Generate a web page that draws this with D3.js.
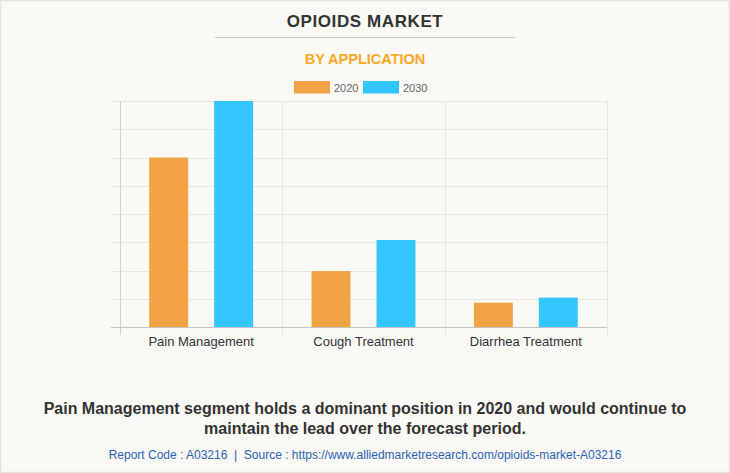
<!DOCTYPE html>
<html><head><meta charset="utf-8">
<script src="https://cdn.jsdelivr.net/npm/d3@7"></script>
<style>
html,body{margin:0;padding:0;background:#fff;}
svg{display:block;}
</style></head>
<body>
<script>
const categories = ["Pain Management", "Cough Treatment", "Diarrhea Treatment"];
const seriesKeys = ["2020", "2030"];
const values2020 = [6.0, 1.98, 0.86];
const values2030 = [8.0, 3.08, 1.04];
const gridTicks = [0,1,2,3,4,5,6,7,8];
const colors = ["#f2a344", "#33c6fd"];

(function(){
const W = 730, H = 473;
const svg = d3.select("body").append("svg").attr("width", W).attr("height", H);
svg.append("rect").attr("x",0.5).attr("y",0.5).attr("width",W-1).attr("height",H-1)
  .attr("fill","#faf9f5").attr("stroke","#e3e3e3").attr("stroke-width",1.5);

const ff = "'Liberation Sans', Arial, sans-serif";
svg.append("text").attr("x",365).attr("y",27).attr("text-anchor","middle")
  .attr("font-family",ff).attr("font-weight","bold").attr("font-size",17).attr("letter-spacing",0.6)
  .attr("fill","#333").text("OPIOIDS MARKET");
svg.append("line").attr("x1",215).attr("x2",515).attr("y1",37.5).attr("y2",37.5).attr("stroke","#c8c8c8");
svg.append("text").attr("x",365).attr("y",64).attr("text-anchor","middle")
  .attr("font-family",ff).attr("font-weight","bold").attr("font-size",14.5)
  .attr("fill","#f9a825").text("BY APPLICATION");

// legend
const legX = [294, 363];
seriesKeys.forEach((k,i)=>{
  svg.append("rect").attr("x",legX[i]).attr("y",81).attr("width",36).attr("height",12.5).attr("fill",colors[i]);
  svg.append("text").attr("x",legX[i]+40).attr("y",91.5).attr("font-family",ff).attr("font-size",11)
    .attr("fill","#666").text(k);
});

const pLeft=120, pRight=607, pTop=101, pBottom=327;
const x0 = d3.scaleBand().domain(categories).range([pLeft,pRight]).padding(0);
const x1 = d3.scaleBand().domain(seriesKeys).range([0,x0.bandwidth()]).paddingInner(0.4).paddingOuter(0.45);
const y = d3.scaleLinear().domain([0,8]).range([pBottom,pTop]);

// grid
const g = svg.append("g");
g.selectAll("line.h").data(gridTicks).enter().append("line")
  .attr("x1",111).attr("x2",pRight).attr("y1",d=>Math.round(y(d))+0.5).attr("y2",d=>Math.round(y(d))+0.5)
  .attr("stroke","#e6e6e6");
const vlines = categories.map(c=>x0(c)).concat([pRight]);
g.selectAll("line.v").data(vlines).enter().append("line")
  .attr("x1",d=>Math.round(d)+0.5).attr("x2",d=>Math.round(d)+0.5).attr("y1",pTop).attr("y2",335)
  .attr("stroke",(d,i)=>i===0?"#cfcfcf":"#e6e6e6");
svg.append("line").attr("x1",111).attr("x2",pRight).attr("y1",pBottom+0.5).attr("y2",pBottom+0.5).attr("stroke","#c4c4c4");

// bars
const data = categories.map((c,i)=>({cat:c, vals:[values2020[i], values2030[i]]}));
const groups = svg.selectAll("g.cat").data(data).enter().append("g").attr("transform",d=>`translate(${x0(d.cat)},0)`);
groups.selectAll("rect").data(d=>d.vals.map((v,i)=>({k:seriesKeys[i],v,i}))).enter().append("rect")
  .attr("x",d=>x1(d.k)).attr("width",x1.bandwidth())
  .attr("y",d=>y(d.v)).attr("height",d=>pBottom-y(d.v)).attr("fill",d=>colors[d.i]);

// x labels
svg.selectAll("text.xl").data(categories).enter().append("text")
  .attr("x",d=>x0(d)+x0.bandwidth()/2).attr("y",346).attr("text-anchor","middle")
  .attr("font-family",ff).attr("font-size",13).attr("fill","#333").text(d=>d);

// footer
const foot = ["Pain Management segment holds a dominant position in 2020 and would continue to",
              "maintain the lead over the forecast period."];
foot.forEach((t,i)=>{
  svg.append("text").attr("x",365).attr("y",414+i*20).attr("text-anchor","middle")
    .attr("font-family",ff).attr("font-weight","bold").attr("font-size",16).attr("fill","#333").text(t);
});
svg.append("text").attr("x",365).attr("y",459).attr("text-anchor","middle")
  .attr("font-family",ff).attr("font-size",12).attr("fill","#2a63b5").style("white-space","pre")
  .text("Report Code : A03216  |  Source : https://www.alliedmarketresearch.com/opioids-market-A03216");
})();
</script>
</body></html>
